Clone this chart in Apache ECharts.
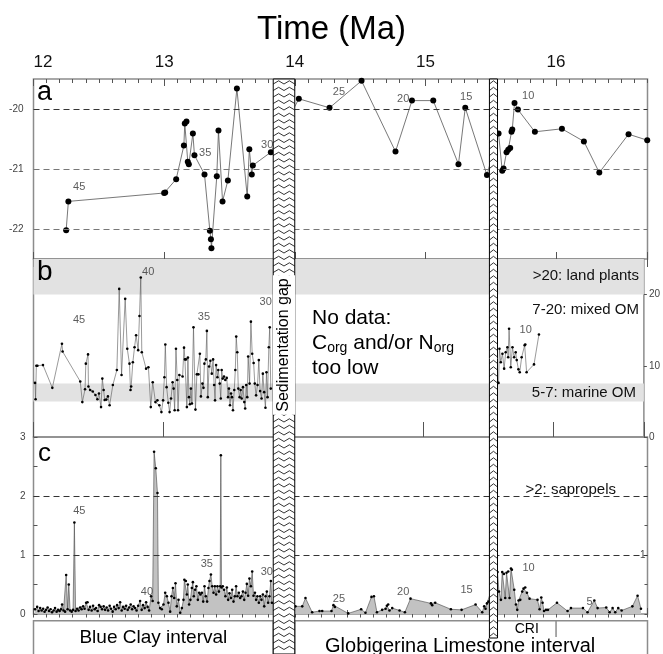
<!DOCTYPE html>
<html>
<head>
<meta charset="utf-8">
<script src="https://cdn.jsdelivr.net/npm/echarts@6/dist/echarts.min.js"></script>
<style>
  html, body { margin: 0; padding: 0; background: #fff; }
  #chart { width: 663px; height: 654px; }
</style>
</head>
<body>
<div id="chart"></div>
<script>
// ---------------- data (age in Ma, value) ----------------

// Panel a: bulk organic carbon isotopes (‰)
const panelA = [
  [12.250,-22.02],[12.267,-21.54],[13.000,-21.40],[13.008,-21.39],[13.092,-21.17],
  [13.151,-20.61],[13.158,-20.24],[13.171,-20.21],[13.181,-20.88],[13.189,-20.92],
  [13.220,-20.41],[13.232,-20.77],[13.309,-21.09],[13.350,-22.03],[13.358,-22.17],
  [13.362,-22.32],[13.403,-21.12],[13.416,-20.36],[13.447,-21.54],[13.488,-21.19],
  [13.557,-19.66],[13.636,-21.46],[13.652,-20.67],[13.671,-21.09],[13.679,-20.94],
  [13.817,-20.72],[14.031,-19.83],[14.266,-19.98],[14.511,-19.53],[14.771,-20.71],
  [14.897,-19.86],[15.060,-19.86],[15.253,-20.92],[15.305,-19.98],[15.471,-21.10],
  [15.560,-20.41],[15.588,-21.03],[15.598,-20.99],[15.621,-20.72],[15.634,-20.68],
  [15.649,-20.65],[15.659,-20.38],[15.665,-20.34],[15.682,-19.90],[15.708,-20.01],
  [15.838,-20.38],[16.045,-20.33],[16.213,-20.54],[16.331,-21.06],[16.555,-20.42],
  [16.698,-20.52]
];

// Panel b: C/N ratio, Blue Clay part
const panelBLower = [
  [12.012,7.6],[12.016,5.3],[12.022,10.0],[12.030,10.0],[12.073,10.1],[12.145,6.9],
  [12.219,13.1],[12.224,12.0],[12.360,7.8],[12.376,4.9],[12.397,6.7],[12.403,10.3],
  [12.420,11.6],[12.423,7.1],[12.436,6.6],[12.456,6.4],[12.477,5.9],[12.492,5.3],
  [12.504,6.1],[12.520,4.2],[12.530,8.2],[12.540,6.6],[12.548,5.2],[12.561,5.25],
  [12.573,5.7],[12.586,4.45],[12.611,7.3],[12.642,9.4],[12.660,20.8],[12.678,8.7],
  [12.706,19.4],[12.722,12.4],[12.739,10.3],[12.747,6.6],[12.752,7.1],[12.765,10.5],
  [12.778,12.6],[12.790,14.3],[12.806,12.2],[12.816,17.0],[12.826,22.4],[12.834,11.9],
  [12.867,9.6],[12.885,9.8],[12.903,4.2],[12.918,7.7],[12.939,4.9],[12.954,5.15],
  [12.969,4.45],[12.985,3.5],[12.998,5.15],[13.008,8.4],[13.015,13.0],[13.025,7.0],
  [13.038,4.8],[13.048,3.5],[13.059,5.4],[13.071,7.7],[13.079,6.8],[13.087,3.75],
  [13.097,12.4],[13.107,8.0],[13.113,3.75],[13.123,8.7],[13.148,8.5],[13.159,12.55],
  [13.166,10.9],[13.174,10.9],[13.181,4.2],[13.189,11.15],[13.197,5.6],[13.204,4.6],
  [13.212,6.8],[13.220,4.7],[13.232,15.4],[13.247,3.85],[13.258,8.8],[13.270,8.8],
  [13.281,11.7],[13.289,5.7],[13.301,7.5],[13.309,6.9],[13.316,10.3],[13.327,10.9],
  [13.335,14.9],[13.342,5.6],[13.352,9.9],[13.362,10.7],[13.373,8.9],[13.383,10.9],
  [13.391,7.3],[13.398,5.15],[13.406,10.1],[13.416,8.4],[13.423,9.4],[13.434,7.5],
  [13.442,5.4],[13.449,9.4],[13.457,8.2],[13.467,8.5],[13.477,8.0],[13.488,8.3],
  [13.498,5.6],[13.505,6.8],[13.513,4.45],[13.521,6.1],[13.528,5.6],[13.536,3.75],
  [13.546,6.6],[13.554,9.4],[13.561,14.1],[13.569,11.9],[13.577,6.8],[13.587,5.6],
  [13.595,6.6],[13.603,5.4],[13.613,7.0],[13.623,4.9],[13.630,4.0],[13.638,7.3],
  [13.646,5.6],[13.653,11.3],[13.664,7.5],[13.674,16.2],[13.684,11.7],[13.695,10.4],
  [13.704,7.5],[13.714,5.85],[13.725,7.3],[13.735,10.8],[13.745,6.45],[13.756,5.4],
  [13.766,8.9],[13.776,6.3],[13.786,4.1],[13.794,9.1],[13.802,5.6],[13.812,12.6],
  [13.819,15.4],[13.827,6.8]
];

// Panel b: C/N ratio, above the second gap
const panelBUpper = [
  [15.548,10.9],[15.565,8.2],[15.581,7.6],[15.588,12.4],[15.598,10.5],[15.611,11.7],
  [15.624,9.6],[15.636,11.9],[15.649,12.6],[15.655,11.2],[15.662,15.2],[15.675,9.8],
  [15.688,12.6],[15.701,11.2],[15.713,11.9],[15.721,10.8],[15.734,9.5],[15.744,9.1],
  [15.759,11.2],[15.782,12.9],[15.787,13.0],[15.797,9.1],[15.854,10.2],[15.892,14.4]
];

// Panel c: organic carbon content (%)
const panelC = [
  [12.012,0.08],[12.028,0.12],[12.039,0.05],[12.051,0.10],[12.062,0.06],[12.074,0.09],
  [12.085,0.04],[12.096,0.07],[12.108,0.11],[12.119,0.05],[12.131,0.08],[12.142,0.03],
  [12.154,0.06],[12.165,0.10],[12.177,0.04],[12.188,0.07],[12.200,0.05],[12.211,0.08],
  [12.219,0.16],[12.230,0.06],[12.242,0.04],[12.250,0.66],[12.261,0.08],[12.270,0.50],
  [12.280,0.06],[12.292,0.04],[12.303,0.07],[12.313,1.55],[12.322,0.05],[12.334,0.09],
  [12.345,0.06],[12.357,0.11],[12.368,0.08],[12.380,0.13],[12.391,0.09],[12.403,0.19],
  [12.413,0.20],[12.422,0.07],[12.433,0.12],[12.445,0.06],[12.456,0.14],[12.468,0.08],
  [12.479,0.10],[12.491,0.05],[12.502,0.15],[12.514,0.12],[12.525,0.08],[12.537,0.13],
  [12.548,0.07],[12.560,0.11],[12.571,0.06],[12.583,0.14],[12.594,0.09],[12.606,0.04],
  [12.617,0.12],[12.629,0.08],[12.640,0.15],[12.652,0.10],[12.663,0.20],[12.675,0.06],
  [12.686,0.12],[12.698,0.09],[12.709,0.14],[12.721,0.07],[12.732,0.11],[12.744,0.16],
  [12.755,0.08],[12.766,0.13],[12.778,0.10],[12.789,0.06],[12.801,0.14],[12.816,0.22],
  [12.828,0.07],[12.839,0.15],[12.851,0.10],[12.862,0.20],[12.874,0.12],[12.885,0.06],
  [12.900,0.30],[12.912,0.22],[12.923,2.75],[12.936,2.47],[12.949,2.05],[12.956,0.19],
  [12.969,0.10],[12.982,0.08],[12.995,0.16],[13.008,0.36],[13.021,0.30],[13.033,0.19],
  [13.046,0.04],[13.056,0.30],[13.067,0.44],[13.077,0.27],[13.087,0.52],[13.097,0.13],
  [13.110,0.24],[13.123,0.02],[13.136,0.10],[13.148,0.24],[13.155,0.58],[13.166,0.56],
  [13.174,0.33],[13.181,0.50],[13.191,0.16],[13.201,0.24],[13.212,0.44],[13.220,0.54],
  [13.227,0.30],[13.237,0.41],[13.247,0.47],[13.258,0.24],[13.268,0.36],[13.278,0.33],
  [13.289,0.36],[13.299,0.21],[13.309,0.47],[13.319,0.30],[13.329,0.21],[13.339,0.44],
  [13.347,0.56],[13.358,0.67],[13.368,0.47],[13.378,0.36],[13.388,0.47],[13.398,0.33],
  [13.408,0.47],[13.419,0.38],[13.429,0.47],[13.434,2.69],[13.439,0.45],[13.449,0.47],
  [13.459,0.41],[13.469,0.30],[13.480,0.45],[13.490,0.24],[13.500,0.35],[13.511,0.27],
  [13.521,0.41],[13.531,0.21],[13.541,0.30],[13.551,0.47],[13.561,0.30],[13.572,0.36],
  [13.582,0.27],[13.592,0.30],[13.603,0.38],[13.613,0.24],[13.623,0.36],[13.633,0.51],
  [13.643,0.31],[13.653,0.60],[13.664,0.47],[13.674,0.72],[13.684,0.31],[13.695,0.36],
  [13.704,0.24],[13.714,0.30],[13.725,0.19],[13.735,0.30],[13.745,0.24],[13.756,0.33],
  [13.766,0.13],[13.776,0.30],[13.786,0.38],[13.796,0.19],[13.806,0.30],[13.817,0.56],
  [13.825,0.19],
  [14.005,0.13],[14.057,0.13],[14.082,0.27],[14.133,0.03],[14.189,0.05],[14.210,0.05],
  [14.281,0.05],[14.296,0.15],[14.307,0.12],[14.409,0.01],[14.508,0.08],[14.541,0.02],
  [14.587,0.29],[14.606,0.30],[14.629,0.03],[14.669,0.07],[14.695,0.09],[14.705,0.14],
  [14.715,0.16],[14.725,0.06],[14.746,0.10],[14.802,0.06],[14.843,0.03],[14.886,0.26],
  [15.042,0.18],[15.052,0.15],[15.075,0.19],[15.195,0.08],[15.277,0.07],[15.384,0.16],
  [15.435,0.03],[15.450,0.13],[15.460,0.09],[15.471,0.18],[15.483,0.21],
  [15.552,0.71],[15.563,0.38],[15.578,0.24],[15.588,0.71],[15.601,0.68],[15.611,0.27],
  [15.621,0.70],[15.634,0.72],[15.644,0.27],[15.655,0.77],[15.662,0.75],[15.680,0.41],
  [15.693,0.16],[15.703,0.07],[15.713,0.23],[15.726,0.24],[15.741,0.38],[15.751,0.43],
  [15.764,0.45],[15.777,0.36],[15.797,0.26],[15.858,0.24],[15.874,0.08],[15.887,0.28],
  [15.897,0.19],[15.908,0.05],[15.923,0.07],[15.938,0.07],[16.007,0.19],[16.088,0.05],
  [16.114,0.10],[16.206,0.10],[16.241,0.03],[16.293,0.23],[16.318,0.10],[16.384,0.11],
  [16.410,0.03],[16.433,0.10],[16.453,0.03],[16.476,0.10],[16.502,0.06],[16.584,0.13],
  [16.624,0.31],[16.650,0.09]
];

// Cycle numbers written next to the curves: [age, value, text]
const cyclesA = [
  [12.350,-21.30,'45'],[13.314,-20.73,'35'],[13.789,-20.60,'30'],[14.338,-19.71,'25'],
  [14.830,-19.83,'20'],[15.312,-19.80,'15'],[15.787,-19.79,'10']
];
const cyclesB = [
  [12.351,16.5,'45'],[12.883,23.2,'40'],[13.312,16.9,'35'],[13.788,19.0,'30'],[15.790,15.0,'10']
];
const cyclesC = [
  [12.351,1.74,'45'],[12.868,0.37,'40'],[13.327,0.85,'35'],[13.786,0.72,'30'],
  [14.338,0.26,'25'],[14.830,0.38,'20'],[15.315,0.40,'15'],[15.790,0.78,'10'],[16.257,0.21,'5']
];

// Hiatuses (age span, Ma)
const gapStart = [13.835, 15.490];
const gapEnd   = [14.000, 15.552];
const gapNames = ['Sedimentation gap', ''];

// Lithological intervals (age span, Ma)
const intervalNames = ['Blue Clay interval', 'Globigerina Limestone interval', 'CRI'];
const intervalStart = [12.0, 14.0, 15.552];
const intervalEnd   = [13.835, 16.7, 16.0];

// Axis settings
const ageTicks = [12, 13, 14, 15, 16];
const AGE_MIN = 12, AGE_MAX = 16.7;

// ---------------- layout / style ----------------
const FONT = '"Liberation Sans", Arial, Helvetica, sans-serif';
const LEFT = 33.5, WIDTH = 614;
const OVERLAY_TOP = 79, OVERLAY_H = 575;          // full-height strip used by gaps & interval boxes
const GAP_BOTTOM = [575, 559];                   // px below overlay top
const GAP_TEXT_Y = 266;
const BOX_TOP = 541.7;
const BOX_TEXT_Y = [17, 25.5, 8.5];
const BOX_TEXT_DX = [0, -11, 0];
const BOX_FONT = [19, 20, 14];
const CRI_BOTTOM = 558;
const TICK_COLOR = '#555';

const chart = echarts.init(document.getElementById('chart'), null, { renderer: 'canvas' });

const frame = { show: true, borderColor: '#8c8c8c', borderWidth: 1.5, backgroundColor: 'transparent' };

function ageAxis(gridIndex, position, interval, tickLen, extra) {
  return Object.assign({
    type: 'value', gridIndex: gridIndex, position: position,
    min: AGE_MIN, max: AGE_MAX, interval: interval,
    axisLine: { show: false }, splitLine: { show: false }, axisLabel: { show: false },
    axisTick: { show: true, inside: true, length: tickLen, lineStyle: { color: TICK_COLOR, width: 1 } }
  }, extra || {});
}

function dashed(values, colors) {
  return {
    silent: true, symbol: 'none', animation: false, label: { show: false },
    data: values.map((v, i) => ({ yAxis: v, lineStyle: { color: colors[i], type: [6, 4], width: 1 } }))
  };
}

function cycleLabels(data, xi, yi) {
  return {
    type: 'scatter', xAxisIndex: xi, yAxisIndex: yi, data: data, symbolSize: 0, silent: true, z: 6,
    label: { show: true, position: 'inside', formatter: p => p.data[2], fontSize: 11, color: '#333', fontFamily: FONT }
  };
}

function renderGap(params, api) {
  const i = params.dataIndex;
  const p0 = api.coord([api.value(0), 0]);
  const p1 = api.coord([api.value(1), GAP_BOTTOM[i]]);
  const x = p0[0], y = p0[1], w = p1[0] - p0[0], h = p1[1] - p0[1];
  const children = [{ type: 'rect', shape: { x: x, y: y, width: w, height: h }, style: { fill: '#fff', stroke: '#000', lineWidth: 1 } }];
  const periods = w > 14 ? 2 : 1;
  const step = w / (periods * 2);
  for (let yy = y + 5; yy < y + h - 1; yy += 6.5) {
    const pts = [];
    for (let k = 0; k <= periods * 2; k++) pts.push([x + k * step, yy - (k % 2 ? 3.2 : 0)]);
    children.push({ type: 'polyline', shape: { points: pts }, style: { stroke: '#000', fill: null, lineWidth: 0.8 } });
  }
  if (gapNames[i]) {
    children.push({
      type: 'text', x: x + w / 2, y: y + GAP_TEXT_Y, rotation: Math.PI / 2,
      style: { text: gapNames[i], fill: '#000', fontSize: 16, fontFamily: FONT, align: 'center', verticalAlign: 'middle',
               backgroundColor: '#fff', padding: [3, 3] }
    });
  }
  return { type: 'group', children: children };
}

function renderInterval(params, api) {
  const i = params.dataIndex;
  const a = api.coord([api.value(0), BOX_TOP]);
  const b = api.coord([api.value(1), BOX_TOP]);
  const bottom = api.coord([api.value(0), OVERLAY_H + 20])[1];
  const line = { stroke: '#8c8c8c', lineWidth: 1.5, fill: null };
  const children = [];
  if (intervalNames[i] === 'CRI') {
    const cb = api.coord([api.value(1), CRI_BOTTOM])[1];
    children.push({ type: 'line', shape: { x1: b[0], y1: a[1], x2: b[0], y2: cb }, style: line });
  } else {
    children.push({ type: 'polyline', shape: { points: [[a[0], bottom], [a[0], a[1]], [b[0], a[1]], [b[0], bottom]] }, style: line });
  }
  children.push({
    type: 'text', x: (a[0] + b[0]) / 2 + BOX_TEXT_DX[i], y: a[1] + BOX_TEXT_Y[i],
    style: { text: intervalNames[i], fill: '#000', fontSize: BOX_FONT[i], fontFamily: FONT, align: 'center', verticalAlign: 'middle' }
  });
  return { type: 'group', children: children };
}

const option = {
  animation: false,
  backgroundColor: '#fff',
  textStyle: { fontFamily: FONT },
  title: { text: 'Time (Ma)', left: 'center', top: 8, textStyle: { fontSize: 33, fontWeight: 'normal', color: '#000', fontFamily: FONT } },
  grid: [
    Object.assign({ left: LEFT, top: 79, width: WIDTH, height: 180 }, frame),
    Object.assign({ left: LEFT, top: 259, width: WIDTH, height: 178 }, frame),
    Object.assign({ left: LEFT, top: 437, width: WIDTH, height: 177 }, frame),
    { left: LEFT, top: OVERLAY_TOP, width: WIDTH, height: OVERLAY_H, show: false }
  ],
  xAxis: [
    ageAxis(0, 'top', 0.1, 4),
    ageAxis(0, 'bottom', 1, 15, { offset: 8 }),
    ageAxis(1, 'bottom', 1, 15, { offset: 8 }),
    ageAxis(2, 'top', 0.1, 3.5),
    ageAxis(2, 'bottom', 0.1, 4),
    ageAxis(3, 'top', 1, 7, {
      axisLabel: { show: true, fontSize: 17, color: '#111', margin: 8, fontFamily: FONT,
                   customValues: ageTicks, alignMinLabel: 'left' },
      axisTick: { show: true, inside: true, length: 7, customValues: ageTicks, lineStyle: { color: TICK_COLOR } }
    }),
    ageAxis(3, 'bottom', 1, 6, { offset: -40 })
  ],
  yAxis: [
    { type: 'value', gridIndex: 0, position: 'left', min: -22.5, max: -19.5, interval: 0.5,
      axisLine: { show: false }, axisTick: { show: false }, splitLine: { show: false },
      axisLabel: { fontSize: 10, color: '#444', margin: 10, fontFamily: FONT, formatter: v => (Number.isInteger(v) ? String(v) : '') } },
    { type: 'value', gridIndex: 1, position: 'right', min: 0, max: 25, interval: 10,
      axisLine: { show: false }, splitLine: { show: false },
      axisTick: { show: true, length: 3, customValues: [0, 10, 20], lineStyle: { color: TICK_COLOR } },
      axisLabel: { fontSize: 10, color: '#444', margin: 5, fontFamily: FONT, showMaxLabel: false } },
    { type: 'value', gridIndex: 2, position: 'left', min: 0, max: 3, interval: 0.5,
      axisLine: { show: false }, splitLine: { show: false },
      axisTick: { show: true, inside: true, length: 4, lineStyle: { color: TICK_COLOR } },
      axisLabel: { fontSize: 10, color: '#444', margin: 8, fontFamily: FONT, formatter: v => (Number.isInteger(v) ? String(v) : '') } },
    { type: 'value', gridIndex: 2, position: 'right', min: 0, max: 3, interval: 0.5,
      axisLine: { show: false }, splitLine: { show: false },
      axisTick: { show: true, inside: true, length: 3, lineStyle: { color: TICK_COLOR } },
      axisLabel: { inside: true, fontSize: 10, color: '#444', margin: 2, fontFamily: FONT, formatter: v => (v === 1 ? '1' : '') } },
    { type: 'value', gridIndex: 3, min: 0, max: OVERLAY_H, inverse: true, show: false }
  ],
  graphic: { elements: [
    { type: 'text', z: 100, x: 37, y: 93, style: { text: 'a', fontSize: 27, fontFamily: FONT, fill: '#000', verticalAlign: 'middle' } },
    { type: 'text', z: 100, x: 37, y: 272, style: { text: 'b', fontSize: 28, fontFamily: FONT, fill: '#000', verticalAlign: 'middle' } },
    { type: 'text', z: 100, x: 38, y: 454, style: { text: 'c', fontSize: 26, fontFamily: FONT, fill: '#000', verticalAlign: 'middle' } },
    { type: 'text', z: 100, x: 639, y: 276, style: { text: '>20: land plants', fontSize: 15, fontFamily: FONT, fill: '#111', align: 'right', verticalAlign: 'middle' } },
    { type: 'text', z: 100, x: 639, y: 310, style: { text: '7-20: mixed OM', fontSize: 15, fontFamily: FONT, fill: '#111', align: 'right', verticalAlign: 'middle' } },
    { type: 'text', z: 100, x: 636, y: 392.5, style: { text: '5-7: marine OM', fontSize: 15, fontFamily: FONT, fill: '#111', align: 'right', verticalAlign: 'middle' } },
    { type: 'text', z: 100, x: 525.5, y: 489.5, style: { text: '>2: sapropels', fontSize: 15, fontFamily: FONT, fill: '#111', verticalAlign: 'middle' } },
    { type: 'text', z: 100, x: 312, y: 305.5, style: {
        text: '{m|No data:}\n{m|C}{s|org}{m| and/or N}{s|org}\n{m|too low}',
        rich: {
          m: { fontSize: 21, lineHeight: 25, fontFamily: FONT, fill: '#000' },
          s: { fontSize: 14, lineHeight: 14, fontFamily: FONT, fill: '#000', verticalAlign: 'bottom' }
        } } }
  ] },
  series: [
    // panel a
    { type: 'line', xAxisIndex: 0, yAxisIndex: 0, data: panelA, z: 3,
      symbol: 'circle', symbolSize: 6, itemStyle: { color: '#000' }, lineStyle: { color: '#555', width: 0.8 },
      markLine: dashed([-20, -21, -22], ['#333', '#777', '#777']) },
    cycleLabels(cyclesA, 0, 0),
    // panel b: organic-matter source bands
    { type: 'line', xAxisIndex: 2, yAxisIndex: 1, data: [], z: 1,
      markArea: { silent: true, itemStyle: { color: '#e2e2e2' },
                  data: [[{ yAxis: 20 }, { yAxis: 25 }], [{ yAxis: 5 }, { yAxis: 7.5 }]] } },
    { type: 'line', xAxisIndex: 2, yAxisIndex: 1, data: panelBLower, z: 3,
      symbol: 'circle', symbolSize: 2.6, itemStyle: { color: '#000' }, lineStyle: { color: '#555', width: 0.6 } },
    { type: 'line', xAxisIndex: 2, yAxisIndex: 1, data: panelBUpper, z: 3,
      symbol: 'circle', symbolSize: 2.6, itemStyle: { color: '#000' }, lineStyle: { color: '#555', width: 0.6 } },
    cycleLabels(cyclesB, 2, 1),
    // panel c
    { type: 'line', xAxisIndex: 3, yAxisIndex: 2, data: panelC, z: 3,
      symbol: 'circle', symbolSize: 2.6, itemStyle: { color: '#000' }, lineStyle: { color: '#444', width: 0.6 },
      areaStyle: { color: '#c2c2c2', opacity: 1 },
      markLine: dashed([1, 2], ['#333', '#333']) },
    cycleLabels(cyclesC, 3, 2),
    // hiatus columns and interval boxes
    { type: 'custom', xAxisIndex: 5, yAxisIndex: 4, z: 20, silent: true,
      data: gapStart.map((s, i) => [s, gapEnd[i]]), renderItem: renderGap },
    { type: 'custom', xAxisIndex: 5, yAxisIndex: 4, z: 19, silent: true,
      data: intervalStart.map((s, i) => [s, intervalEnd[i]]), renderItem: renderInterval }
  ]
};

chart.setOption(option);
</script>
</body>
</html>
